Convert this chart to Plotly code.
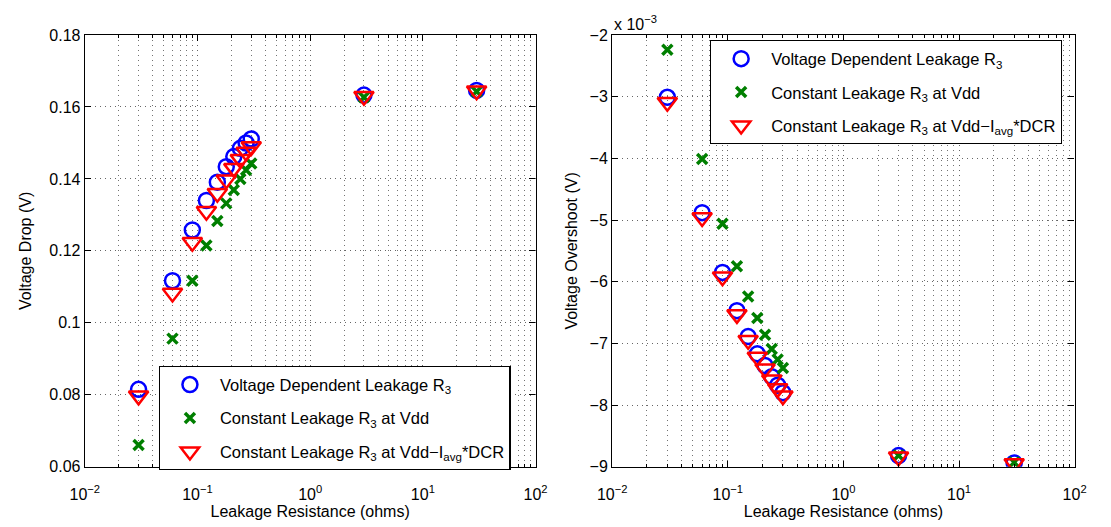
import plotly.graph_objects as go

# ---- data ----
resistance = [0.03, 0.06, 0.09, 0.12, 0.15, 0.18, 0.21, 0.24, 0.27, 0.30, 3, 30]

drop_vdep = [0.0815, 0.1117, 0.1258, 0.1340, 0.1391, 0.1434, 0.1462, 0.1485, 0.1500, 0.1511, 0.1633, 0.1646]
drop_const_vdd = [0.0660, 0.0956, 0.1117, 0.1215, 0.1283, 0.1332, 0.1369, 0.1400, 0.1425, 0.1443, 0.1627, 0.1643]
drop_const_dcr = [0.0797, 0.1083, 0.1224, 0.1310, 0.1360, 0.1398, 0.1430, 0.1455, 0.1475, 0.1490, 0.1630, 0.1645]

# overshoot in units of 1e-3 V
over_vdep = [-3.01, -4.88, -5.85, -6.47, -6.89, -7.17, -7.36, -7.54, -7.68, -7.80, -8.82, -8.94]
over_const_vdd = [-2.24, -4.01, -5.06, -5.75, -6.24, -6.59, -6.86, -7.09, -7.26, -7.40, -8.82, -8.93]
over_const_dcr = [-3.09, -4.96, -5.92, -6.53, -6.95, -7.22, -7.41, -7.59, -7.73, -7.85, -8.84, -8.95]

names = ["Voltage Dependent Leakage R<sub>3</sub>",
         "Constant Leakage R<sub>3</sub> at Vdd",
         "Constant Leakage R<sub>3</sub> at Vdd\u2212I<sub>avg</sub>*DCR"]

x_tickvals = [0.01, 0.1, 1, 10, 100]
x_ticktext = ["10<sup>\u22122</sup>", "10<sup>\u22121</sup>", "10<sup>0</sup>", "10<sup>1</sup>", "10<sup>2</sup>"]
x_minorvals = [m * d for d in [0.01, 0.1, 1, 10] for m in range(2, 10)]
left_yticks = [0.06, 0.08, 0.1, 0.12, 0.14, 0.16, 0.18]
left_yticktext = ["0.06", "0.08", "0.1", "0.12", "0.14", "0.16", "0.18"]
right_yticks = [-9, -8, -7, -6, -5, -4, -3, -2]
right_yticktext = ["\u22129", "\u22128", "\u22127", "\u22126", "\u22125", "\u22124", "\u22123", "\u22122"]

FONT = "Liberation Sans, Arial, Helvetica, sans-serif"

styles = [
    dict(symbol="circle-open", size=15, color="#0000ff", line=dict(width=2.5, color="#0000ff")),
    dict(symbol="x-thin-open", size=10, color="#007f00", line=dict(width=3.5, color="#007f00")),
    dict(symbol="triangle-down-open", size=17, color="#ff0000", line=dict(width=2.5, color="#ff0000")),
]

fig = go.Figure()
for i, (series, st, nm) in enumerate(zip([drop_vdep, drop_const_vdd, drop_const_dcr], styles, names)):
    fig.add_trace(go.Scatter(x=resistance, y=series, mode="markers", marker=st, name=nm,
                             xaxis="x", yaxis="y", legend="legend", legendgroup="L%d" % i))
for i, (series, st, nm) in enumerate(zip([over_vdep, over_const_vdd, over_const_dcr], styles, names)):
    fig.add_trace(go.Scatter(x=resistance, y=series, mode="markers", marker=st, name=nm,
                             xaxis="x2", yaxis="y2", legend="legend2", legendgroup="R%d" % i))

DOT = "1px,4px"
grid = dict(showgrid=True, gridcolor="rgba(0,0,0,0.6)", griddash=DOT, gridwidth=1)
common_x = dict(type="log", range=[-2, 2], tickvals=x_tickvals, ticktext=x_ticktext,
                ticks="inside", ticklen=6, tickcolor="black", mirror="allticks",
                showline=True, linecolor="black", linewidth=1.3, zeroline=False,
                minor=dict(tickvals=x_minorvals, ticks="inside", ticklen=3, tickcolor="black",
                           showgrid=True, gridcolor="rgba(0,0,0,0.55)", griddash=DOT, gridwidth=1),
                tickfont=dict(size=16, color="black"), ticklabelstandoff=13,
                title=dict(text="Leakage Resistance (ohms)", font=dict(size=16, color="black"), standoff=0),
                **grid)
common_y = dict(ticks="inside", ticklen=6, tickcolor="black", mirror="allticks",
                showline=True, linecolor="black", linewidth=1.3, zeroline=False,
                tickfont=dict(size=16, color="black"), **grid)

legend_common = dict(xanchor="left", yanchor="top", bordercolor="black", borderwidth=1.3,
                     bgcolor="white", font=dict(size=16.5, color="black"),
                     itemwidth=50, tracegroupgap=9)

fig.update_layout(
    width=1111, height=527,
    margin=dict(l=0, r=0, t=0, b=0),
    paper_bgcolor="white", plot_bgcolor="white",
    font=dict(family=FONT, color="black"),
    xaxis=dict(domain=[0.0644, 0.4802], anchor="y", **common_x),
    yaxis=dict(domain=[0.1006, 0.947], anchor="x", range=[0.06, 0.18],
               tickvals=left_yticks, ticktext=left_yticktext,
               title=dict(text="Voltage Drop (V)", font=dict(size=16, color="black"), standoff=13),
               **common_y),
    xaxis2=dict(domain=[0.5509, 0.9775], anchor="y2", **common_x),
    yaxis2=dict(domain=[0.1006, 0.947], anchor="x2", range=[-9, -2],
                tickvals=right_yticks, ticktext=right_yticktext,
                title=dict(text="Voltage Overshoot (V)", font=dict(size=16, color="black"), standoff=7),
                **common_y),
    legend=dict(x=0.1325, y=0.298, **legend_common),
    legend2=dict(x=0.641, y=0.937, **legend_common),
    annotations=[dict(text="x 10<sup>\u22123</sup>", xref="paper", yref="paper",
                      x=0.5509, y=0.947, xanchor="left", yanchor="bottom",
                      showarrow=False, font=dict(size=16, color="black"))],
)

fig.write_html("out.html")
